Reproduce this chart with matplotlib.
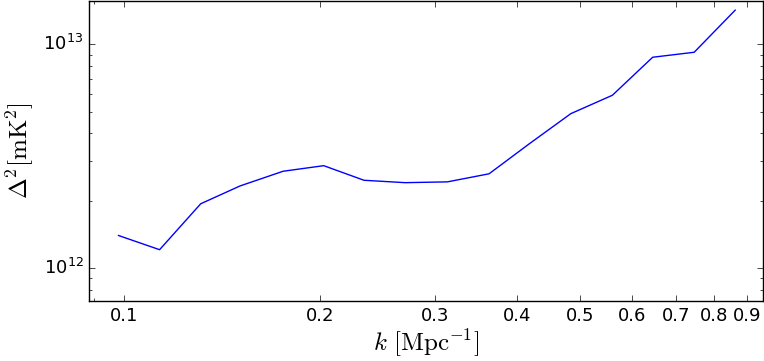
import matplotlib
matplotlib.use("Agg")
import numpy
from matplotlib import pyplot
from matplotlib.ticker import ScalarFormatter, NullFormatter

pyplot.style.use("classic")
pyplot.rcParams["mathtext.fontset"] = "cm"

k = numpy.asarray([
    0.0982, 0.1135, 0.1312, 0.1507, 0.1754, 0.2024, 0.2333, 0.2697,
    0.3130, 0.3625, 0.4175, 0.4836, 0.5599, 0.6453, 0.7470, 0.8631,
])

delta2 = numpy.asarray([
    1.40e12, 1.21e12, 1.94e12, 2.33e12, 2.71e12, 2.87e12, 2.47e12, 2.41e12,
    2.43e12, 2.64e12, 3.59e12, 4.90e12, 5.92e12, 8.75e12, 9.21e12, 1.42e13,
])

xticks = [0.1, 0.2, 0.3, 0.4, 0.5, 0.6, 0.7, 0.8, 0.9]

fig = pyplot.figure(figsize=(7.64, 3.61), dpi=100, facecolor="white")
axes = fig.add_axes([89 / 764, 1 - 301 / 361, 674 / 764, 300 / 361])

axes.loglog(k, delta2, "b-")

axes.set_xlim(0.0885, 0.952)
axes.set_ylim(7.14e11, 1.56e13)

axes.set_xticks(xticks)
axes.xaxis.set_major_formatter(ScalarFormatter())
axes.xaxis.set_minor_formatter(NullFormatter())
axes.tick_params(labelsize=13)

axes.set_xlabel(r"$k\ [\mathrm{Mpc}^{-1}]$", fontsize=18, labelpad=2)
axes.set_ylabel(r"$\Delta^2 [\mathrm{mK}^2]$", fontsize=18)

fig.savefig("out.png", dpi=100, facecolor="white")
